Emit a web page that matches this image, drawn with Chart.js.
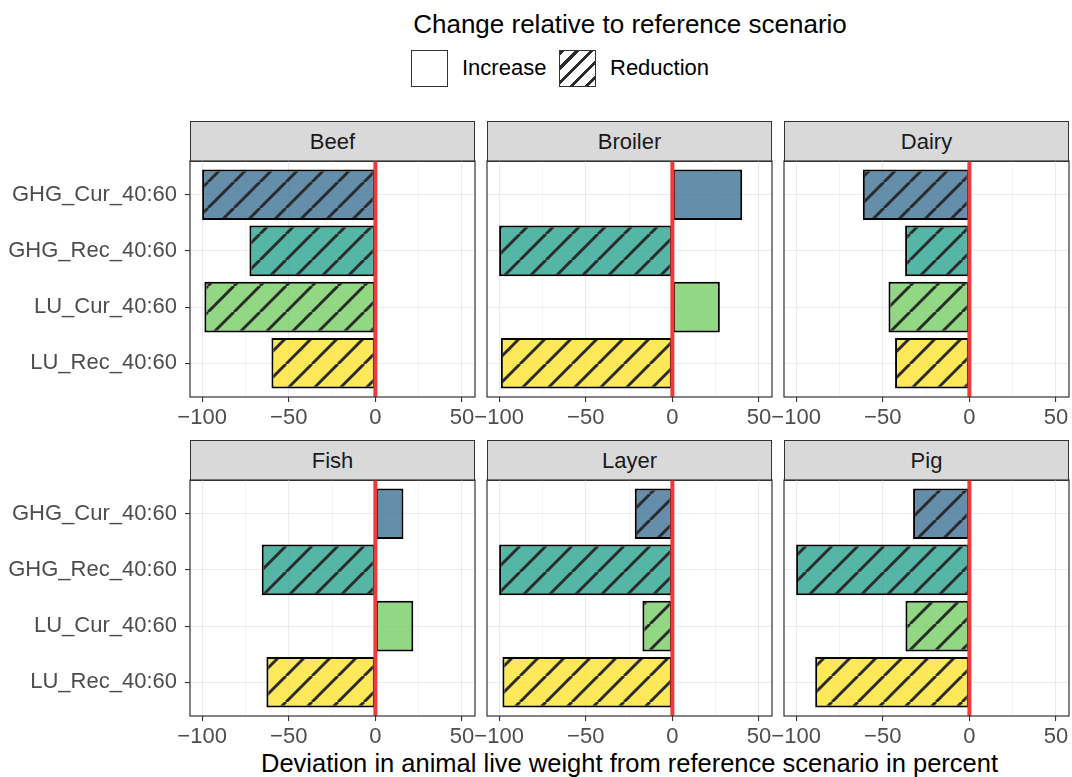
<!DOCTYPE html>
<html>
<head>
<meta charset="utf-8">
<script src="https://cdn.jsdelivr.net/npm/chart.js@4.4.1/dist/chart.umd.min.js"></script>
<style>
html, body { margin: 0; padding: 0; background: #fff; overflow: hidden; }
#page { position: relative; width: 1072px; height: 777px; overflow: hidden; font-family: "Liberation Sans", Arial, sans-serif; }
.panel_canvas { position: absolute; left: 0; top: 0; }
.strip { position: absolute; box-sizing: border-box; background: #d9d9d9; border: 1.2px solid #333; font-size: 22px; color: #1a1a1a; display: flex; align-items: center; justify-content: center; }
.txt { position: absolute; white-space: nowrap; line-height: 1; }
.key { position: absolute; box-sizing: border-box; width: 37px; height: 37px; border: 1.2px solid #333; background: #fff; }
.key_hatch { background: repeating-linear-gradient(135deg, #2b2b2b 0px, #2b2b2b 3px, #fff 3px, #fff 10.5px); }
</style>
</head>
<body>
<div id="page">
  <div class="txt" style="left:0; width:1260px; top:11px; font-size:26px; color:#000; text-align:center;">Change relative to reference scenario</div>
  <div class="key" style="left:411px; top:50px;"></div>
  <div class="txt" style="left:462px; top:57px; font-size:22px; color:#000;">Increase</div>
  <div class="key key_hatch" style="left:559px; top:50px;"></div>
  <div class="txt" style="left:610px; top:57px; font-size:22px; color:#000;">Reduction</div>
  <div class="txt" style="left:190px; width:879px; top:751px; font-size:25.5px; color:#000; text-align:center;">Deviation in animal live weight from reference scenario in percent</div>
</div>
<script>
// facets and scenarios
const species_names = ['Beef', 'Broiler', 'Dairy', 'Fish', 'Layer', 'Pig'];
const scenario_labels = ['GHG_Cur_40:60', 'GHG_Rec_40:60', 'LU_Cur_40:60', 'LU_Rec_40:60'];

// percent change per species, one array per scenario
const ghg_cur_values = [-100, 40.3, -61.5, 16.2, -21.7, -32.5];
const ghg_rec_values = [-72.7, -100, -37.1, -65.6, -100, -100];
const lu_cur_values = [-98.7, 27.4, -46.7, 21.9, -17.3, -36.9];
const lu_rec_values = [-60.0, -99.0, -42.9, -62.9, -98.1, -89.0];

const x_tick_values = [-100, -75, -50, -25, 0, 25, 50];
const x_tick_labels = ['\u2212100', '', '\u221250', '', '0', '', '50'];
const reference_line_value = 0;

const series_list = [ghg_cur_values, ghg_rec_values, lu_cur_values, lu_rec_values];
const scenario_fills = [
    'rgba(61, 114, 149, 0.8)',
    'rgba(44, 164, 144, 0.8)',
    'rgba(119, 206, 101, 0.8)',
    'rgba(251, 226, 46, 0.8)',
];

const panel_lefts = [190, 487, 784];
const panel_tops = [161, 480];
const panel_w = 285;
const panel_h = 236;
const x_axis_h = 40;
const canvas_w = 1090;
const canvas_h = 777;

Chart.defaults.font.family = '"Liberation Sans", Arial, sans-serif';

function make_hatch(ctx, fill) {
    const size = 26;
    const tile = document.createElement('canvas');
    tile.width = size;
    tile.height = size;
    const g = tile.getContext('2d');
    g.fillStyle = fill;
    g.fillRect(0, 0, size, size);
    g.strokeStyle = '#2b2b2b';
    g.lineWidth = 3;
    for (const k of [-1, 0, 1]) {
        g.beginPath();
        g.moveTo(k * size, size);
        g.lineTo(k * size + size, 0);
        g.stroke();
    }
    return ctx.createPattern(tile, 'repeat');
}

const panel_decor = {
    id: 'panel_decor',
    afterDatasetsDraw(chart) {
        const { ctx, chartArea, scales } = chart;
        const x0 = scales.x.getPixelForValue(reference_line_value);
        ctx.save();
        ctx.strokeStyle = '#ef3b3b';
        ctx.lineWidth = 4;
        ctx.beginPath();
        ctx.moveTo(x0, chartArea.top);
        ctx.lineTo(x0, chartArea.bottom);
        ctx.stroke();
        ctx.strokeStyle = '#333333';
        ctx.lineWidth = 1.2;
        ctx.strokeRect(chartArea.left, chartArea.top, chartArea.right - chartArea.left, chartArea.bottom - chartArea.top);
        ctx.restore();
    },
};

function make_panel(k) {
    const page = document.getElementById('page');
    const col = k % 3;
    const row = Math.floor(k / 3);
    const left = panel_lefts[col];
    const top = panel_tops[row];

    const strip = document.createElement('div');
    strip.className = 'strip';
    strip.style.left = left + 'px';
    strip.style.top = (top - 40) + 'px';
    strip.style.width = panel_w + 'px';
    strip.style.height = '41px';
    strip.textContent = species_names[k];
    page.appendChild(strip);

    const canvas = document.createElement('canvas');
    canvas.className = 'panel_canvas';
    canvas.width = canvas_w;
    canvas.height = canvas_h;
    page.appendChild(canvas);
    const ctx = canvas.getContext('2d');

    const values = series_list.map((s) => s[k]);
    const fills = values.map((v, i) => (v < 0 ? make_hatch(ctx, scenario_fills[i]) : scenario_fills[i]));

    new Chart(ctx, {
        type: 'bar',
        data: {
            datasets: [{
                data: values.map((v, i) => ({ x: v, y: i })),
                backgroundColor: fills,
                borderColor: '#000000',
                borderWidth: 2,
                borderSkipped: false,
                barPercentage: 0.9,
                categoryPercentage: 1,
            }],
        },
        options: {
            indexAxis: 'y',
            responsive: false,
            animation: false,
            layout: {
                padding: {
                    left: col === 0 ? 0 : left,
                    right: canvas_w - left - panel_w,
                    top: top,
                    bottom: canvas_h - top - panel_h - x_axis_h,
                },
            },
            plugins: {
                legend: { display: false },
                tooltip: { enabled: false },
            },
            scales: {
                x: {
                    type: 'linear',
                    bounds: 'data',
                    offset: false,
                    min: -107,
                    max: 57.5,
                    afterBuildTicks: (scale) => {
                        scale.ticks = x_tick_values.map((v) => ({ value: v }));
                    },
                    afterFit: (scale) => {
                        scale.height = x_axis_h;
                    },
                    ticks: {
                        callback: (v, i) => x_tick_labels[i],
                        color: '#4d4d4d',
                        font: { size: 22 },
                        padding: 3,
                        maxRotation: 0,
                        autoSkip: false,
                    },
                    grid: {
                        offset: false,
                        color: '#ebebeb',
                        lineWidth: (c) => (x_tick_labels[c.index] ? 1.1 : 0.55),
                        tickColor: (c) => (x_tick_labels[c.index] ? '#333333' : 'rgba(0,0,0,0)'),
                        tickLength: 5,
                        tickWidth: 1.1,
                    },
                    border: { display: false },
                },
                y: {
                    type: 'linear',
                    bounds: 'data',
                    offset: false,
                    reverse: true,
                    min: -0.6,
                    max: 3.6,
                    afterBuildTicks: (scale) => {
                        scale.ticks = scenario_labels.map((s, i) => ({ value: i }));
                    },
                    afterFit: (scale) => {
                        scale.width = col === 0 ? left : 0;
                    },
                    ticks: {
                        display: col === 0,
                        callback: (v) => scenario_labels[v],
                        color: '#4d4d4d',
                        font: { size: 22 },
                        padding: 8,
                        autoSkip: false,
                    },
                    grid: {
                        offset: false,
                        color: '#ebebeb',
                        lineWidth: 1.1,
                        drawTicks: col === 0,
                        tickColor: '#333333',
                        tickLength: 5,
                        tickWidth: 1.1,
                    },
                    border: { display: false },
                },
            },
        },
        plugins: [panel_decor],
    });
}

species_names.forEach((name, k) => make_panel(k));
</script>
</body>
</html>
